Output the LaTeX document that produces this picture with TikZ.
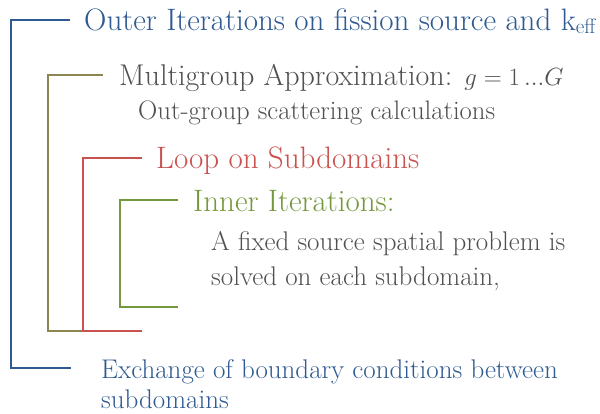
\documentclass[tikz,border=0pt]{standalone}
\usepackage{xcolor}
\definecolor{cblue}{HTML}{2E5A91}
\definecolor{colive}{HTML}{8B8550}
\definecolor{cred}{HTML}{C9524F}
\definecolor{cgreen}{HTML}{76983C}
\definecolor{cgray}{HTML}{505050}
\begin{document}
\begin{tikzpicture}[x=1pt,y=-1pt,
  br/.style={line width=1.9pt},
  big/.style={anchor=base west,inner sep=0pt,font=\fontsize{31}{36}\selectfont},
  small/.style={anchor=base west,inner sep=0pt,font=\fontsize{27}{32}\selectfont}]
\useasboundingbox (0,0) rectangle (600,413);
% coordinates
\coordinate (b1) at (70,20); \coordinate (b2) at (11,20); \coordinate (b3) at (11,368); \coordinate (b4) at (71,368);
\coordinate (o1) at (103,75); \coordinate (o2) at (48,75); \coordinate (o3) at (48,331); \coordinate (o4) at (83,331);
\coordinate (r1) at (142,158); \coordinate (r2) at (83,158); \coordinate (r3) at (83,331); \coordinate (r4) at (142,331);
\coordinate (g1) at (178,200); \coordinate (g2) at (120,200); \coordinate (g3) at (120,307); \coordinate (g4) at (178,307);
\draw[br,cblue] (b1) -- (b2) -- (b3) -- (b4);
\draw[br,colive] (o1) -- (o2) -- (o3) -- (o4);
\draw[br,cred] (r1) -- (r2) -- (r3) -- (r4);
\draw[br,cgreen] (g1) -- (g2) -- (g3) -- (g4);
% texts
\node[big,text=cblue] (t1) at (84,30) {Outer Iterations on fission source and k\raisebox{-0.25ex}{\fontsize{21}{21}\selectfont eff}};
\node[big,text=cgray,font=\fontsize{30}{36}\selectfont] (t2) at (119,85) {Multigroup Approximation: {\fontsize{24}{24}\selectfont$g=1\,...G$}};
\node[small,text=cgray,font=\fontsize{26.7}{32}\selectfont] (t3) at (138,119) {Out-group scattering calculations};
\node[big,text=cred] (t4) at (156,168) {Loop on Subdomains};
\node[big,text=cgreen] (t5) at (193,211) {Inner Iterations:};
\node[small,text=cgray] (t6) at (211,250) {A fixed source spatial problem is};
\node[small,text=cgray] (t6b) at (211,285) {solved on each subdomain,};
\node[small,text=cblue] (t7) at (101,378) {Exchange of boundary conditions between};
\node[small,text=cblue] (t7b) at (101,408) {subdomains};
\end{tikzpicture}
\end{document}
